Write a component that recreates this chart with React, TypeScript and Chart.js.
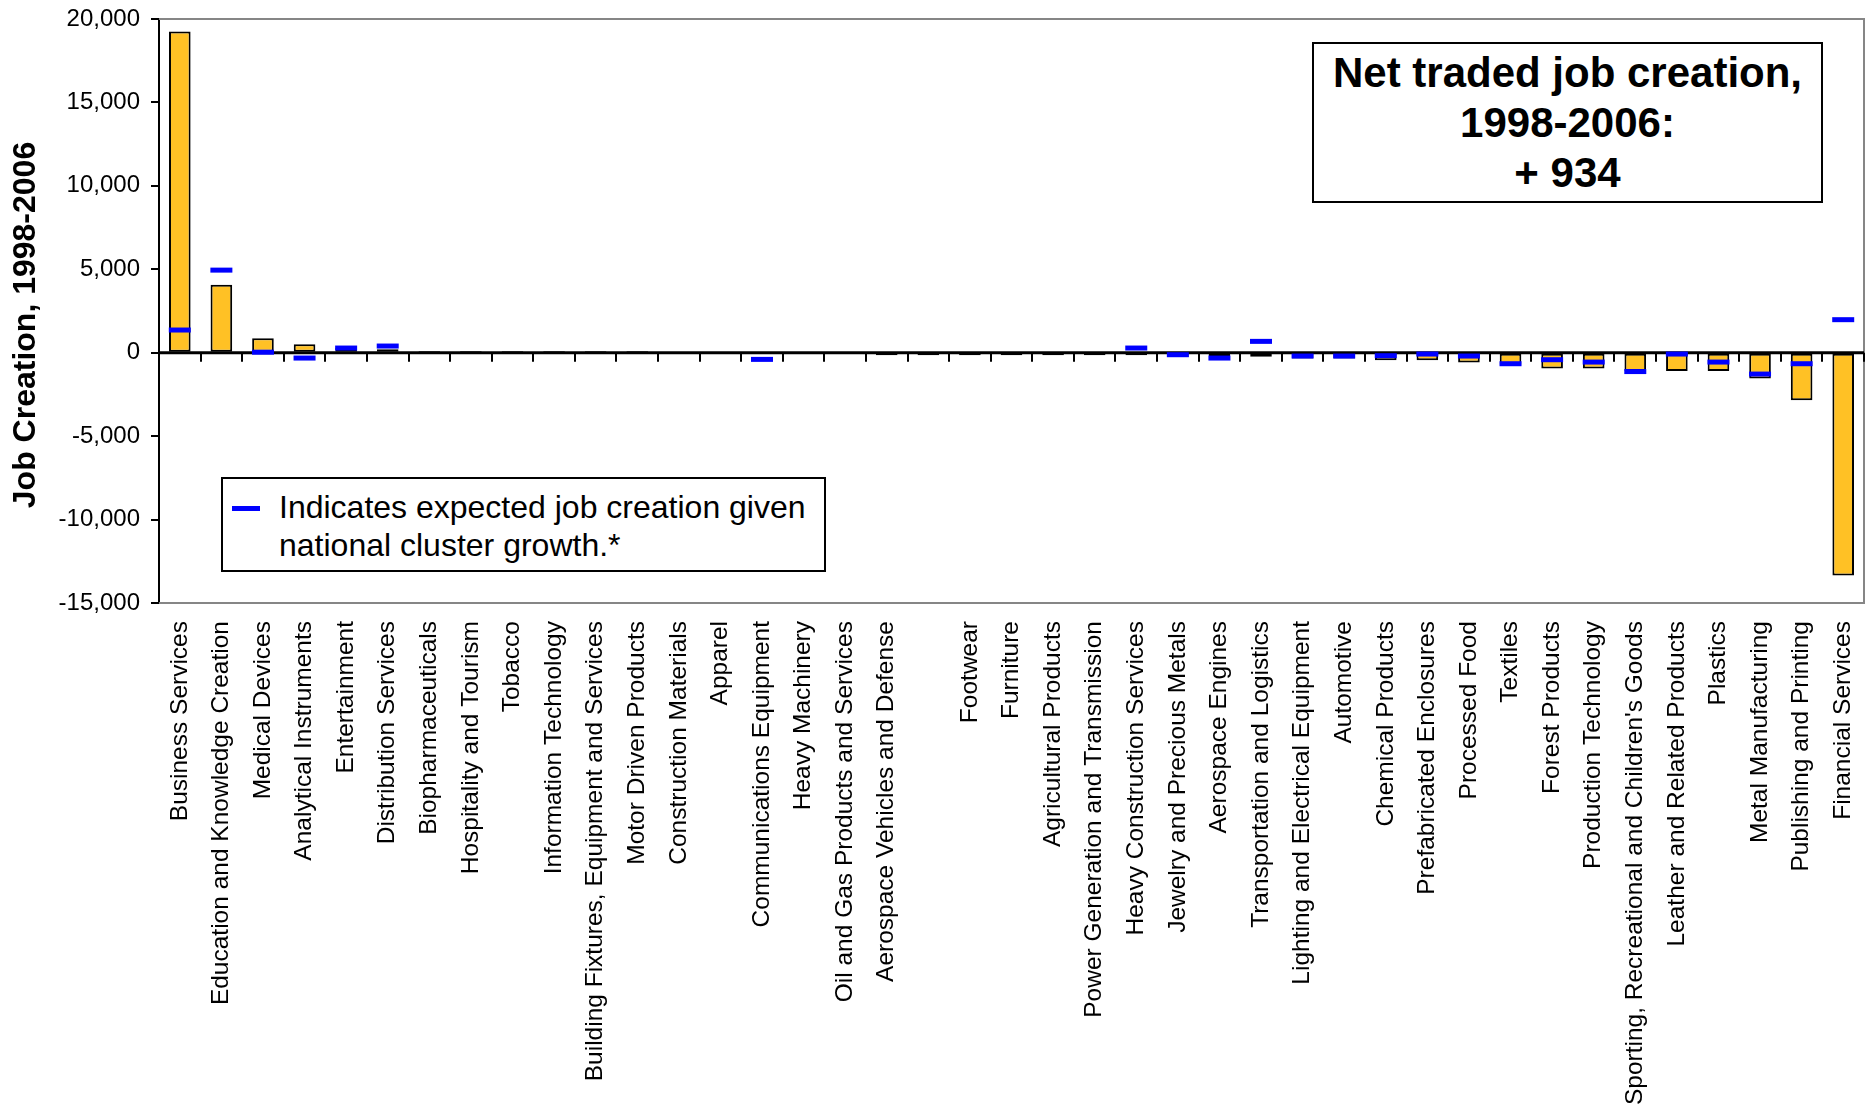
import React, { useEffect, useRef } from "react";
import { Chart, registerables } from "chart.js";

Chart.register(...registerables);

const categories: string[] = [
  "Business Services",
  "Education and Knowledge Creation",
  "Medical Devices",
  "Analytical Instruments",
  "Entertainment",
  "Distribution Services",
  "Biopharmaceuticals",
  "Hospitality and Tourism",
  "Tobacco",
  "Information Technology",
  "Building Fixtures, Equipment and Services",
  "Motor Driven Products",
  "Construction Materials",
  "Apparel",
  "Communications Equipment",
  "Heavy Machinery",
  "Oil and Gas Products and Services",
  "Aerospace Vehicles and Defense",
  "",
  "Footwear",
  "Furniture",
  "Agricultural Products",
  "Power Generation and Transmission",
  "Heavy Construction Services",
  "Jewelry and Precious Metals",
  "Aerospace Engines",
  "Transportation and Logistics",
  "Lighting and Electrical Equipment",
  "Automotive",
  "Chemical Products",
  "Prefabricated Enclosures",
  "Processed Food",
  "Textiles",
  "Forest Products",
  "Production Technology",
  "Sporting, Recreational and Children's Goods",
  "Leather and Related Products",
  "Plastics",
  "Metal Manufacturing",
  "Publishing and Printing",
  "Financial Services",
];

const actualJobCreation: number[] = [
  19250, 4080, 860, 500, 290, 210, 110, 110, 110, 110, 110, 110, 0, 0, 0, 0, 0,
  -150, -150, -150, -150, -150, -150, -150, -260, -200, -240, -350, -350,
  -450, -450, -580, -720, -950, -950, -1100, -1100, -1100, -1550, -2850,
  -13350,
];

const expectedJobCreation: (number | null)[] = [
  1360, 4950, 30, -320, 280, 400, null, null, null, null, null, null, null,
  null, -400, null, null, null, null, null, null, null, null, 280, -120,
  -320, 680, -200, -200, -180, -80, -200, -660, -420, -560, -1130, -80,
  -560, -1280, -660, 1980,
];

const yMin = -15000;
const yMax = 20000;
const yStep = 5000;

const titleLines: string[] = ["Net traded job creation,", "1998-2006:", "+ 934"];
const legendLines: string[] = [
  "Indicates expected job creation given",
  "national cluster growth.*",
];
const yAxisTitle = "Job Creation, 1998-2006";

const FONT = "'Liberation Sans', Arial, Helvetica, sans-serif";

const W = 1871;
const H = 1110;
const AREA_LEFT = 159;
const AREA_TOP = 19;
const AREA_RIGHT = 1864;
const AREA_BOTTOM = 603;

const axisPlugin = {
  id: "customAxes",
  afterDatasetDraw(chart: any, args: any) {
    if (args.index !== 0) return;
    const { ctx, chartArea } = chart;
    const { left, right, top, bottom } = chartArea;
    const x = chart.scales.x;
    const y = chart.scales.y;
    ctx.save();
    // plot frame (top, right, bottom)
    ctx.strokeStyle = "#868686";
    ctx.lineWidth = 2;
    ctx.beginPath();
    ctx.moveTo(left, top);
    ctx.lineTo(right, top);
    ctx.lineTo(right, bottom);
    ctx.lineTo(left, bottom);
    ctx.stroke();
    // zero line
    const y0 = y.getPixelForValue(0);
    ctx.strokeStyle = "#000";
    ctx.lineWidth = 3;
    ctx.beginPath();
    ctx.moveTo(left, y0);
    ctx.lineTo(right, y0);
    ctx.stroke();
    // category boundary ticks
    const step = x.getPixelForValue(1) - x.getPixelForValue(0);
    ctx.lineWidth = 2;
    ctx.beginPath();
    for (let i = 0; i < categories.length; i++) {
      const bx = Math.round(x.getPixelForValue(i) + step / 2);
      ctx.moveTo(bx, y0);
      ctx.lineTo(bx, y0 + 9);
    }
    ctx.stroke();
    ctx.restore();
  },
  afterDraw(chart: any) {
    const { ctx } = chart;
    ctx.save();
    ctx.translate(26, 325);
    ctx.rotate(-Math.PI / 2);
    ctx.font = `bold 32px ${FONT}`;
    ctx.fillStyle = "#000";
    ctx.textAlign = "center";
    ctx.textBaseline = "middle";
    ctx.fillText(yAxisTitle, 0, 0);
    ctx.restore();
  },
};

export default function App() {
  const canvasRef = useRef<HTMLCanvasElement | null>(null);

  useEffect(() => {
    const canvas = canvasRef.current;
    if (!canvas) return;
    const chart = new Chart(canvas, {
      type: "bar",
      data: {
        labels: categories,
        datasets: [
          {
            type: "bar",
            label: "Net job creation",
            data: actualJobCreation,
            backgroundColor: "#FFC125",
            borderColor: "#000000",
            borderWidth: 2,
            borderSkipped: false,
            barPercentage: 0.52,
            categoryPercentage: 1,
            order: 2,
          } as any,
          {
            type: "line",
            label: "Expected job creation",
            data: expectedJobCreation,
            showLine: false,
            pointStyle: "line",
            pointRadius: 11,
            pointHoverRadius: 11,
            pointBorderWidth: 5,
            pointBorderColor: "#0000FF",
            pointBackgroundColor: "#0000FF",
            borderColor: "#0000FF",
            order: 1,
          } as any,
        ],
      },
      options: {
        responsive: false,
        animation: false,
        layout: {
          autoPadding: false,
          padding: {
            top: AREA_TOP,
            right: W - AREA_RIGHT,
            left: 0,
            bottom: 0,
          },
        },
        plugins: {
          legend: { display: false },
          tooltip: { enabled: false },
          title: { display: false },
        },
        scales: {
          x: {
            offset: true,
            grid: { display: false },
            border: { display: false },
            ticks: {
              autoSkip: false,
              maxRotation: 90,
              minRotation: 90,
              padding: 10,
              color: "#000",
              font: { family: FONT, size: 24.5 },
            },
            afterFit(scale: any) {
              scale.height = H - AREA_BOTTOM;
              scale.paddingLeft = 0;
              scale.paddingRight = 0;
            },
          },
          y: {
            min: yMin,
            max: yMax,
            ticks: {
              stepSize: yStep,
              padding: 11,
              color: "#000",
              font: { family: FONT, size: 24 },
              callback: (v: any) => Number(v).toLocaleString("en-US"),
            },
            grid: {
              display: true,
              drawOnChartArea: false,
              drawTicks: true,
              tickLength: 8,
              color: "#000",
              lineWidth: 2,
            },
            border: { display: true, color: "#000", width: 2 },
            title: { display: false },
            afterFit(scale: any) {
              scale.width = AREA_LEFT;
              scale.paddingTop = 0;
              scale.paddingBottom = 0;
            },
          },
        },
      },
      plugins: [axisPlugin],
    });
    return () => chart.destroy();
  }, []);

  return (
    <div
      style={{
        position: "absolute",
        left: 0,
        top: 0,
        width: W,
        height: H,
        background: "#fff",
        fontFamily: FONT,
      }}
    >
      <canvas
        ref={canvasRef}
        width={W}
        height={H}
        style={{ position: "absolute", left: 0, top: 0, width: W, height: H }}
      />
      <div
        style={{
          position: "absolute",
          left: 1312,
          top: 42,
          width: 511,
          height: 161,
          boxSizing: "border-box",
          border: "2px solid #000",
          background: "#fff",
          display: "flex",
          flexDirection: "column",
          justifyContent: "center",
          alignItems: "center",
          fontWeight: "bold",
          fontSize: 42,
          lineHeight: "50px",
          color: "#000",
        }}
      >
        {titleLines.map((t, i) => (
          <div key={i}>{t}</div>
        ))}
      </div>
      <div
        style={{
          position: "absolute",
          left: 221,
          top: 477,
          width: 605,
          height: 95,
          boxSizing: "border-box",
          border: "2px solid #000",
          background: "#fff",
          color: "#000",
        }}
      >
        <div
          style={{
            position: "absolute",
            left: 9,
            top: 27,
            width: 28,
            height: 5,
            background: "#0000FF",
          }}
        />
        <div
          style={{
            position: "absolute",
            left: 56,
            top: 9,
            fontSize: 32,
            lineHeight: "38px",
            whiteSpace: "nowrap",
          }}
        >
          {legendLines.map((t, i) => (
            <div key={i}>{t}</div>
          ))}
        </div>
      </div>
    </div>
  );
}
